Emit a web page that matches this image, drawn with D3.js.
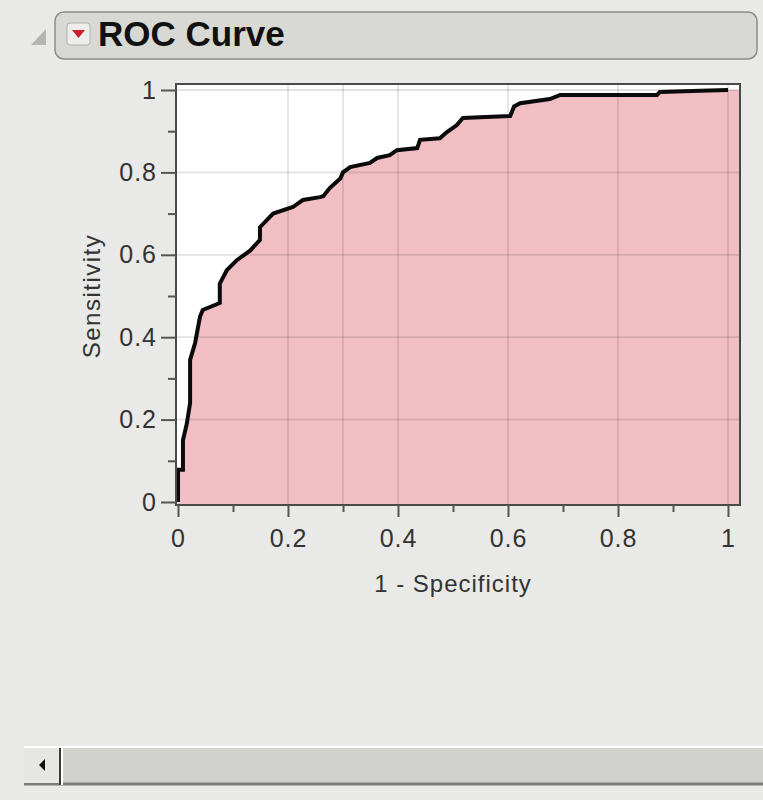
<!DOCTYPE html>
<html lang="en">
<head>
<meta charset="utf-8">
<title>ROC Curve</title>
<script src="https://cdn.jsdelivr.net/npm/d3@7"></script>
<style>
  body { margin: 0; background: #e9e9e7; }
  text { font-family: "Liberation Sans", Arial, sans-serif; }
</style>
</head>
<body>
<script>
// ROC points: [1 - specificity, sensitivity]
var rocPoints = [
  [0,0],[0,0.078],[0.009,0.078],[0.009,0.15],[0.016,0.19],[0.022,0.24],[0.022,0.345],
  [0.031,0.385],[0.04,0.45],[0.045,0.466],[0.076,0.483],[0.076,0.53],[0.089,0.563],
  [0.107,0.587],[0.131,0.61],[0.149,0.636],[0.149,0.667],[0.173,0.70],[0.209,0.716],
  [0.227,0.733],[0.258,0.74],[0.264,0.742],[0.276,0.762],[0.295,0.785],[0.3,0.80],
  [0.313,0.813],[0.349,0.823],[0.362,0.835],[0.385,0.842],[0.398,0.854],[0.435,0.859],
  [0.44,0.879],[0.476,0.883],[0.489,0.898],[0.507,0.915],[0.518,0.932],[0.549,0.934],
  [0.604,0.937],[0.611,0.96],[0.622,0.968],[0.676,0.978],[0.695,0.988],[0.871,0.988],
  [0.876,0.995],[0.95,0.998],[1,1]
];
var majorTicks = [0, 0.2, 0.4, 0.6, 0.8, 1];
var tickLabels = ["0", "0.2", "0.4", "0.6", "0.8", "1"];
var minorTicks = [0.1, 0.3, 0.5, 0.7, 0.9];
var gridX = [0.2, 0.3, 0.4, 0.6, 0.8, 1];
var gridY = [0.2, 0.4, 0.6, 0.8, 1];

var width = 763, height = 800;
var svg = d3.select("body").append("svg")
    .attr("width", width)
    .attr("height", height);

svg.append("rect").attr("width", width).attr("height", height).attr("fill", "#e9e9e7");

// title bar
svg.append("path")
    .attr("d", "M46,29 L46,45 L31,45 Z")
    .attr("fill", "#b4b4b2");
svg.append("rect")
    .attr("x", 55).attr("y", 12).attr("width", 702).attr("height", 47)
    .attr("rx", 9)
    .attr("fill", "#d8d8d5")
    .attr("stroke", "#8c8c8a").attr("stroke-width", 1.5);
svg.append("rect")
    .attr("x", 67).attr("y", 23).attr("width", 23).attr("height", 22)
    .attr("rx", 3)
    .attr("fill", "#eeeeec").attr("stroke", "#b0b0ae");
svg.append("path")
    .attr("d", "M72,30 L85,30 L78.5,38 Z")
    .attr("fill", "#c8202a");
svg.append("text")
    .attr("x", 98).attr("y", 46)
    .attr("font-size", 35).attr("font-weight", "bold")
    .attr("fill", "#111")
    .text("ROC Curve");

// scales
var x = d3.scaleLinear().domain([0, 1]).range([178, 728]);
var y = d3.scaleLinear().domain([0, 1]).range([502, 90]);
var xLo = x.invert(176), xHi = x.invert(740);
var yLo = y.invert(505), yHi = y.invert(84);

// plot background
svg.append("rect")
    .attr("x", x(xLo)).attr("y", y(yHi))
    .attr("width", x(xHi) - x(xLo)).attr("height", y(yLo) - y(yHi))
    .attr("fill", "#ffffff");

// filled area under the curve
var area = d3.area()
    .x(function(d){ return x(d[0]); })
    .y0(y(yLo))
    .y1(function(d){ return y(d[1]); });
svg.append("path")
    .datum(rocPoints.concat([[xHi, 1]]))
    .attr("d", area)
    .attr("fill", "#f0bec3");

// grid lines
svg.append("g").selectAll("line")
    .data(gridX).enter().append("line")
    .attr("x1", function(d){ return x(d); }).attr("x2", function(d){ return x(d); })
    .attr("y1", y(yHi)).attr("y2", y(yLo))
    .attr("stroke", "rgba(60,40,40,0.14)").attr("stroke-width", 1.8);
svg.append("g").selectAll("line")
    .data(gridY).enter().append("line")
    .attr("x1", x(xLo)).attr("x2", x(xHi))
    .attr("y1", function(d){ return y(d); }).attr("y2", function(d){ return y(d); })
    .attr("stroke", "rgba(60,40,40,0.14)").attr("stroke-width", 1.8);

// curve
var line = d3.line()
    .x(function(d){ return x(d[0]); })
    .y(function(d){ return y(d[1]); });
svg.append("path")
    .datum(rocPoints)
    .attr("d", line)
    .attr("fill", "none")
    .attr("stroke", "#0a0a0a")
    .attr("stroke-width", 4)
    .attr("stroke-linejoin", "miter");

// frame
svg.append("rect")
    .attr("x", x(xLo)).attr("y", y(yHi))
    .attr("width", x(xHi) - x(xLo)).attr("height", y(yLo) - y(yHi))
    .attr("fill", "none")
    .attr("stroke", "#4a4a4a").attr("stroke-width", 2);

// x axis
var xAxis = svg.append("g")
    .attr("transform", "translate(0," + y(yLo) + ")")
    .call(d3.axisBottom(x).tickValues(majorTicks)
        .tickFormat(function(d, i){ return tickLabels[i]; })
        .tickSize(12).tickPadding(12));
xAxis.select(".domain").remove();
xAxis.selectAll(".tick line").attr("stroke", "#555").attr("stroke-width", 2);
xAxis.selectAll("text").attr("font-size", 25).attr("fill", "#333")
    .attr("letter-spacing", 1).attr("font-family", "Liberation Sans, Arial, sans-serif");
var xMinor = svg.append("g")
    .attr("transform", "translate(0," + y(yLo) + ")")
    .call(d3.axisBottom(x).tickValues(minorTicks).tickSize(7).tickFormat(""));
xMinor.select(".domain").remove();
xMinor.selectAll(".tick line").attr("stroke", "#555").attr("stroke-width", 2);

// y axis
var yAxis = svg.append("g")
    .attr("transform", "translate(" + x(xLo) + ",0)")
    .call(d3.axisLeft(y).tickValues(majorTicks)
        .tickFormat(function(d, i){ return tickLabels[i]; })
        .tickSize(15).tickPadding(4));
yAxis.select(".domain").remove();
yAxis.selectAll(".tick line").attr("stroke", "#555").attr("stroke-width", 2);
yAxis.selectAll("text").attr("font-size", 25).attr("fill", "#333")
    .attr("letter-spacing", 1).attr("font-family", "Liberation Sans, Arial, sans-serif");
var yMinor = svg.append("g")
    .attr("transform", "translate(" + x(xLo) + ",0)")
    .call(d3.axisLeft(y).tickValues(minorTicks).tickSize(8).tickFormat(""));
yMinor.select(".domain").remove();
yMinor.selectAll(".tick line").attr("stroke", "#555").attr("stroke-width", 2);

// axis titles
svg.append("text")
    .attr("x", (x(0) + x(1)) / 2).attr("y", 592)
    .attr("text-anchor", "middle")
    .attr("font-size", 24).attr("letter-spacing", 1)
    .attr("fill", "#333")
    .text("1 - Specificity");
svg.append("text")
    .attr("transform", "translate(100," + y(0.5) + ") rotate(-90)")
    .attr("text-anchor", "middle")
    .attr("font-size", 24).attr("letter-spacing", 1.5)
    .attr("fill", "#333")
    .text("Sensitivity");

// scrollbar at the bottom
svg.append("rect")
    .attr("x", 24).attr("y", 746).attr("width", 739).attr("height", 39)
    .attr("fill", "#d1d1cd");
svg.append("line").attr("x1", 24).attr("x2", 763).attr("y1", 747).attr("y2", 747)
    .attr("stroke", "#ffffff").attr("stroke-width", 2);
svg.append("line").attr("x1", 24).attr("x2", 763).attr("y1", 784).attr("y2", 784)
    .attr("stroke", "#7d7d7b").attr("stroke-width", 3);
svg.append("rect")
    .attr("x", 24).attr("y", 748).attr("width", 35).attr("height", 35)
    .attr("fill", "#e6e6e4");
svg.append("line").attr("x1", 60).attr("x2", 60).attr("y1", 748).attr("y2", 785)
    .attr("stroke", "#3a3a3a").attr("stroke-width", 2);
svg.append("line").attr("x1", 62).attr("x2", 62).attr("y1", 748).attr("y2", 785)
    .attr("stroke", "#ffffff").attr("stroke-width", 2);
svg.append("path")
    .attr("d", "M39,765 L45,759 L45,771 Z")
    .attr("fill", "#111");
</script>
</body>
</html>
